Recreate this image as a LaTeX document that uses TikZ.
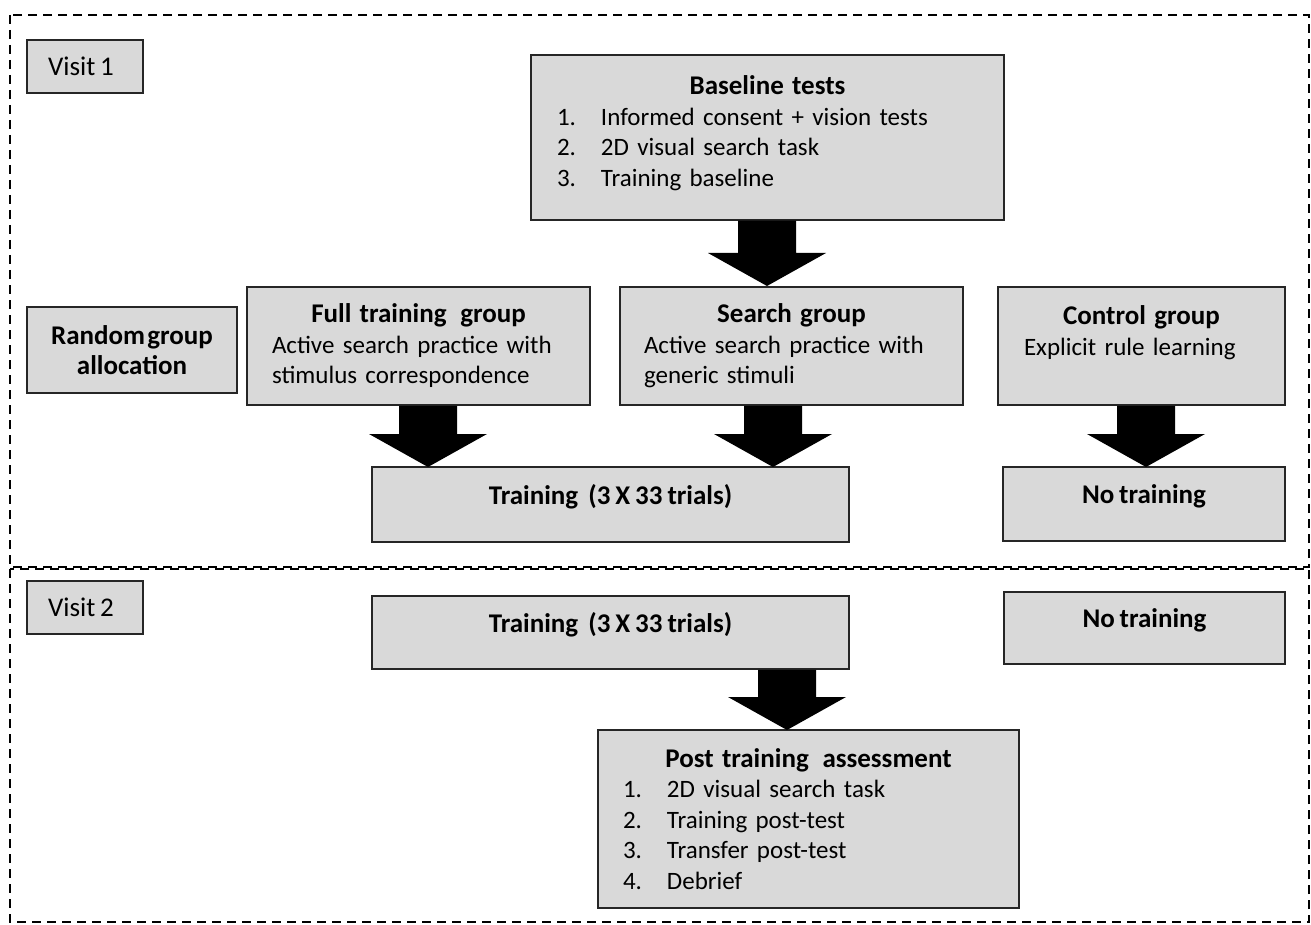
\documentclass[tikz,border=0pt]{standalone}
\usepackage{fontspec}
\setmainfont{Carlito}[WordSpace=0.8]
\usetikzlibrary{calc}
\definecolor{boxgray}{HTML}{D9D9D9}
\definecolor{boxline}{HTML}{262626}
\newcommand\fsz{\fontsize{25}{30.5}\selectfont}
\newcommand\bt{\bfseries\fontsize{27}{30.5}\selectfont}
\newcommand\itm[2]{\makebox[44pt][l]{#1}#2}
\newcommand{\blockarrow}[2]{%
  \fill[black] let \p1=(#1), \p2=(#2) in
  (\x1-29pt,\y1) -- (\x1+29pt,\y1) -- (\x1+29pt,\y2+33pt) -- (\x1+59pt,\y2+33pt)
  -- (\x2,\y2) -- (\x1-59pt,\y2+33pt) -- (\x1-29pt,\y2+33pt) -- cycle;}
\begin{document}
\begin{tikzpicture}[x=1pt,y=-1pt,
  box/.style={draw=boxline, line width=1.5pt, fill=boxgray, inner sep=0pt, font=\fsz, align=center},
  raised/.style={text height=17pt, text depth=18pt},
  frame/.style={draw=black, line width=2.6pt, dash pattern=on 9pt off 6pt}]
\useasboundingbox (0,0) rectangle (1311,925);
% dashed frames
\draw[frame] (10,15) rectangle (1309,567);
\draw[frame] (10,569) rectangle (1309,922);

% visit labels
\node[box, minimum width=116, minimum height=53, font=\fontsize{27}{30}\selectfont] (v1) at (85,66.5) {\hspace{-8pt}Visit 1};
\node[box, minimum width=116, minimum height=53, font=\fontsize{27}{30}\selectfont] (v2) at (85,607.5) {\hspace{-8pt}Visit 2};

% baseline
\node[box, minimum width=473, minimum height=165, text width=421, align=left] (base) at (767.5,137.5)
 {{\centering\bt Baseline tests\par}
  \itm{1.}{Informed consent + vision tests}\par
  \itm{2.}{2D visual search task}\par
  \itm{3.}{Training baseline}\par\vspace{-18pt}\mbox{}};

% groups
\node[box, minimum width=210, minimum height=86] (rand) at (132,350)
 {\bt Random\hspace{0.08em}group\\\bt allocation};
\node[box, minimum width=343, minimum height=118, text width=293, align=left] (full) at (418.5,346)
 {{\centering\bt Full training\hspace{0.2em} group\par}
  Active search practice with\par stimulus correspondence};
\node[box, minimum width=343, minimum height=118, text width=295, align=left] (search) at (791.5,346)
 {{\centering\bt Search group\par}
  Active search practice with\par generic stimuli};
\node[box, minimum width=287, minimum height=118, text width=235, align=left] (ctrl) at (1141.5,346)
 {{\centering\bt Control group\par}
  Explicit rule learning\par\mbox{}};

% training visit 1
\node[box, raised, minimum width=477, minimum height=75] (train1) at (610.5,504.5)
 {\bt Training\hspace{0.2em} (3 X 33 trials)};
\node[box, raised, minimum width=282, minimum height=74] (none1) at (1144,504)
 {\bt No training};

% visit 2
\node[box, raised, minimum width=477, minimum height=73] (train2) at (610.5,632.5)
 {\bt Training\hspace{0.2em} (3 X 33 trials)};
\node[box, raised, minimum width=281, minimum height=72] (none2) at (1144.5,628)
 {\bt No training};

\node[box, minimum width=421, minimum height=178, text width=371, align=left] (post) at (808.5,819)
 {{\centering\bt Post training\hspace{0.2em} assessment\par}
  \itm{1.}{2D visual search task}\par
  \itm{2.}{Training post-test}\par
  \itm{3.}{Transfer post-test}\par
  \itm{4.}{Debrief}};

% arrows
\coordinate (t0) at (767,286);
\coordinate (t1) at (428,467);
\coordinate (t2) at (773,467);
\coordinate (t3) at (1146,467);
\coordinate (t4) at (787,730);
\blockarrow{t0 |- base.south}{t0}
\blockarrow{t1 |- full.south}{t1}
\blockarrow{t2 |- search.south}{t2}
\blockarrow{t3 |- ctrl.south}{t3}
\blockarrow{t4 |- train2.south}{t4}
\end{tikzpicture}
\end{document}
